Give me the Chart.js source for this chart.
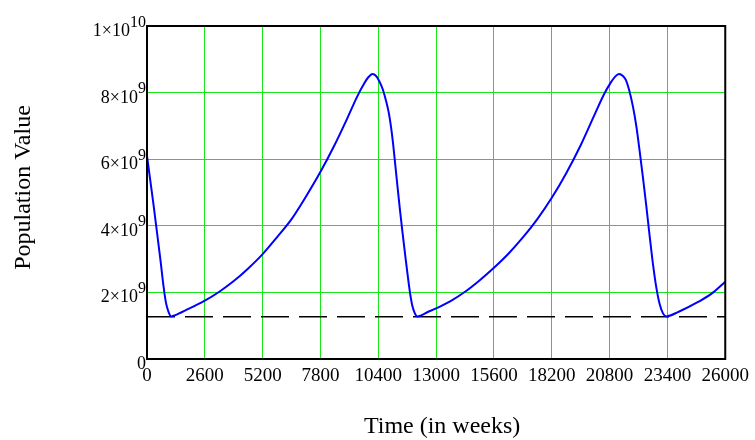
<!DOCTYPE html>
<html><head><meta charset="utf-8">
<script src="https://cdn.jsdelivr.net/npm/chart.js@4/dist/chart.umd.min.js"></script>
<style>html,body{margin:0;padding:0;background:#fff}#wrap{width:755px;height:440px}</style>
</head><body><div id="wrap"><canvas id="c" width="755" height="440"></canvas></div>
<script>
// ---- data ----
const weeks = [0,150,300,450,600,750,850,950,1085,1600,2100,2600,3250,3900,4550,5200,5850,6500,7150,7800,8400,9000,9450,9770,9950,10140,10300,10440,10600,10750,10870,10970,11060,11160,11260,11370,11480,11600,11710,11830,11930,12040,12150,12650,13000,13650,14300,14950,15600,16250,16900,17550,18200,18850,19500,20100,20550,20850,21050,21220,21400,21530,21670,21850,22000,22150,22300,22450,22600,22750,22900,23050,23200,23340,23910,24800,25400,26000];
const population = [6.1e9,5.35e9,4.6e9,3.8e9,3.0e9,2.15e9,1.7e9,1.45e9,1.28e9,1.42e9,1.58e9,1.75e9,2.02e9,2.34e9,2.72e9,3.15e9,3.66e9,4.2e9,4.88e9,5.62e9,6.38e9,7.22e9,7.88e9,8.28e9,8.46e9,8.56e9,8.5e9,8.35e9,8.1e9,7.75e9,7.4e9,6.98e9,6.5e9,5.85e9,5.2e9,4.5e9,3.85e9,3.17e9,2.57e9,1.97e9,1.6e9,1.38e9,1.28e9,1.42e9,1.52e9,1.74e9,2.02e9,2.36e9,2.74e9,3.16e9,3.65e9,4.2e9,4.84e9,5.58e9,6.42e9,7.3e9,7.95e9,8.3e9,8.48e9,8.56e9,8.5e9,8.38e9,8.1e9,7.58e9,7.0e9,6.25e9,5.45e9,4.6e9,3.7e9,2.85e9,2.15e9,1.65e9,1.37e9,1.28e9,1.42e9,1.72e9,1.97e9,2.32e9];
const thresholdWeeks = [0, 26000];
const thresholdValue = [1.27e9, 1.27e9];
const xTicks = [0,2600,5200,7800,10400,13000,15600,18200,20800,23400,26000];
const yTickValues = [0,2e9,4e9,6e9,8e9,1e10];
const yTickBase = ['0','2×10','4×10','6×10','8×10','1×10'];
const yTickExp = ['','9','9','9','9','10'];
const xTitle = 'Time (in weeks)';
const yTitle = 'Population Value';

const FONT = '"Liberation Serif", "Times New Roman", serif';

const framePlugin = {
  id: 'frame',
  afterDatasetsDraw(chart) {
    const {ctx, chartArea: a} = chart;
    ctx.save();
    ctx.strokeStyle = '#000';
    ctx.lineWidth = 2;
    ctx.strokeRect(a.left, a.top, a.right - a.left, a.bottom - a.top);
    ctx.restore();
  },
  afterDraw(chart) {
    const {ctx, chartArea: a} = chart;
    const ys = chart.scales.y;
    const right = 146;
    ctx.save();
    ctx.fillStyle = '#000';
    ctx.textAlign = 'right';
    ctx.textBaseline = 'alphabetic';
    yTickValues.forEach((v, i) => {
      const py = ys.getPixelForValue(v);
      let expW = 0;
      if (yTickExp[i]) {
        ctx.font = '16px ' + FONT;
        expW = ctx.measureText(yTickExp[i]).width;
        ctx.fillText(yTickExp[i], right, py + 0.5);
      }
      ctx.font = '18px ' + FONT;
      ctx.fillText(yTickBase[i], right - expW, py + 10);
    });
    // axis titles
    ctx.font = '24px ' + FONT;
    ctx.textAlign = 'center';
    ctx.fillText(xTitle, (a.left + a.right) / 2 + 6, 433);
    ctx.translate(30, (a.top + a.bottom) / 2 - 5);
    ctx.rotate(-Math.PI / 2);
    ctx.fillText(yTitle, 0, 0);
    ctx.restore();
  }
};

new Chart(document.getElementById('c'), {
  type: 'line',
  data: {
    datasets: [
      {
        data: weeks.map((w, i) => ({x: w, y: population[i]})),
        borderColor: '#0000ff',
        borderWidth: 2,
        pointRadius: 0,
        cubicInterpolationMode: 'monotone',
        fill: false
      },
      {
        data: thresholdWeeks.map((w, i) => ({x: w, y: thresholdValue[i]})),
        borderColor: '#000',
        borderWidth: 1.5,
        borderDash: [28, 10],
        pointRadius: 0,
        fill: false
      }
    ]
  },
  options: {
    responsive: false,
    devicePixelRatio: 1,
    animation: false,
    layout: {padding: {left: 0, right: 29, top: 26, bottom: 0}},
    plugins: {legend: {display: false}, tooltip: {enabled: false}, title: {display: false}},
    scales: {
      x: {
        type: 'linear', min: 0, max: 26000,
        afterBuildTicks: s => { s.ticks = xTicks.map(v => ({value: v})); },
        afterFit: s => { s.height = 81; },
        ticks: {font: {family: FONT, size: 19}, color: '#000', padding: 6, maxRotation: 0, autoSkip: false, callback: v => String(v)},
        grid: {color: '#19e619', lineWidth: 1, drawTicks: false},
        border: {display: false},
        title: {display: false}
      },
      y: {
        type: 'linear', min: 0, max: 1e10,
        afterBuildTicks: s => { s.ticks = yTickValues.map(v => ({value: v})); },
        afterFit: s => { s.width = 147; },
        ticks: {display: false},
        grid: {color: '#19e619', lineWidth: 1, drawTicks: false},
        border: {display: false},
        title: {display: false}
      }
    }
  },
  plugins: [framePlugin]
});
</script>
</body></html>
